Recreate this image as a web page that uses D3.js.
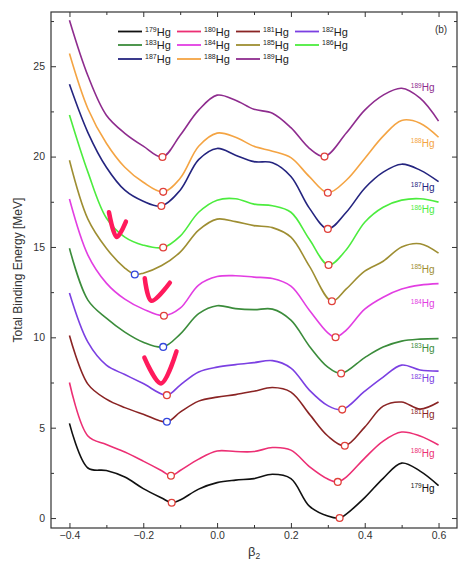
<!DOCTYPE html>
<html><head><meta charset="utf-8">
<script src="https://cdn.jsdelivr.net/npm/d3@7"></script>
<style>
body{margin:0;background:#fff}
svg{display:block}
text{font-family:"Liberation Sans",Arial,Helvetica,sans-serif}
</style>
</head><body>
<svg id="chart" width="459" height="566"></svg>
<script>
// ---------------- data ----------------
const isotopes = [179,180,181,182,183,184,185,186,187,188,189];
const colors = ["#111111","#ec2f74","#8a2424","#7b40e2","#3b8c3b","#e23ee2","#9e8e32","#4cec3e","#24247f","#f4a443","#8e2c8e"];
const beta = [-0.40,-0.35,-0.30,-0.25,-0.20,-0.15,-0.10,-0.05,0.00,0.05,0.10,0.15,0.20,0.25,0.30,0.35,0.40,0.45,0.50,0.55,0.60];

const E179 = [5.24,2.77,2.63,2.27,1.63,1.11,1.00,1.60,1.96,2.10,2.18,2.42,2.18,0.66,0.11,0.22,1.13,2.20,3.04,2.60,1.80];
const E180 = [7.50,4.54,4.07,3.65,3.15,2.62,2.63,3.26,3.71,3.68,3.68,3.90,3.76,2.85,2.16,2.27,3.32,4.26,4.76,4.54,4.04];
const E181 = [10.10,7.41,6.58,6.11,5.75,5.42,5.86,6.47,6.69,6.83,7.02,7.22,6.97,5.75,4.54,4.08,5.03,6.19,6.42,6.03,6.42];
const E182 = [12.45,9.73,8.46,7.94,7.44,6.94,7.36,8.08,8.35,8.49,8.60,8.71,8.30,7.08,6.22,6.19,7.02,7.80,8.46,8.19,8.13];
const E183 = [14.93,12.06,11.06,10.29,9.73,9.47,10.18,11.31,11.75,11.59,11.53,11.56,10.95,9.51,8.35,8.16,8.88,9.46,9.79,9.90,9.93];
const E184 = [17.65,14.55,13.00,12.11,11.56,11.19,11.61,12.89,13.36,13.41,13.33,13.25,12.83,11.50,10.25,10.40,11.56,12.22,12.67,12.89,12.97];
const E185 = [19.80,16.54,14.93,13.83,13.55,13.97,14.71,15.93,16.54,16.40,16.18,16.07,15.54,13.94,12.22,12.68,13.66,14.21,15.00,15.18,14.66];
const E186 = [22.30,19.14,16.60,15.54,15.10,14.97,15.60,16.92,17.59,17.67,17.37,17.28,16.92,15.43,14.10,14.85,16.37,17.20,17.59,17.67,17.48];
const E187 = [24.00,21.33,19.41,18.14,17.53,17.27,18.14,19.83,20.45,20.08,19.72,19.66,18.90,17.15,15.98,16.92,18.25,19.14,19.58,19.25,18.61];
const E188 = [25.70,22.65,20.74,19.41,18.58,18.05,18.80,20.57,21.30,21.07,20.57,20.30,19.94,18.89,17.99,18.69,19.90,21.13,22.00,21.85,21.07];
const E189 = [27.54,24.47,22.29,21.29,20.58,19.98,21.18,22.57,23.40,23.12,22.62,22.40,21.60,20.46,20.13,21.30,22.57,23.40,23.78,23.23,21.96];
const energies = [E179,E180,E181,E182,E183,E184,E185,E186,E187,E188,E189];

// local minima (marked with circles)
const oblateBeta = [-0.123,-0.125,-0.136,-0.136,-0.146,-0.144,-0.223,-0.146,-0.151,-0.146,-0.148];
const oblateE    = [0.85,2.34,5.33,6.80,9.47,11.19,13.48,14.97,17.27,18.05,19.98];
const oblateKind = ["r","r","b","r","b","r","b","r","r","r","r"];
const prolateBeta = [0.332,0.327,0.346,0.339,0.336,0.321,0.311,0.302,0.300,0.300,0.291];
const prolateE    = [0,2,4,6,8,10,12,14,16,18,20];

// right-hand isotope labels (energy at which each label sits)
const labelE = [1.62,3.55,5.72,7.68,9.38,11.82,13.75,17.02,18.28,20.72,23.78];

// hand-drawn check marks on the figure (beta, energy)
const checks = [
  [[-0.293,16.92],[-0.272,15.55],[-0.247,16.40]],
  [[-0.196,13.27],[-0.178,12.02],[-0.128,13.02]],
  [[-0.197,8.88],[-0.152,7.45],[-0.110,9.22]]
];

const xTicks = [-0.4,-0.2,0.0,0.2,0.4,0.6];
const xMinor = [-0.3,-0.1,0.1,0.3,0.5];
const yTicks = [0,5,10,15,20,25];
const yMinor = [2.5,7.5,12.5,17.5,22.5,27.5];

// ---------------- layout ----------------
const svg = d3.select("#chart");
const L = 51, R = 457, T = 12, B = 528;
const x = d3.scaleLinear().domain([-0.45,0.65]).range([L,R]);
const y = d3.scaleLinear().domain([-0.55,28.0]).range([B,T]);

const axisColor = "#333";

function styleAxis(g){
  g.select(".domain").remove();
  g.selectAll(".tick line").attr("stroke",axisColor).attr("stroke-width",1);
  g.selectAll(".tick text").attr("fill","#333").style("font-size","10.5px")
   .style("font-family",'"Liberation Sans",Arial,sans-serif');
}

// bottom
svg.append("g").attr("transform",`translate(0,${B})`)
  .call(d3.axisBottom(x).tickValues(xTicks).tickSizeInner(-5).tickSizeOuter(0).tickPadding(4).tickFormat(d3.format(".1f")))
  .call(styleAxis);
svg.append("g").attr("transform",`translate(0,${B})`)
  .call(d3.axisBottom(x).tickValues(xMinor).tickSizeInner(-3).tickSizeOuter(0).tickFormat(""))
  .call(styleAxis);
// top
svg.append("g").attr("transform",`translate(0,${T})`)
  .call(d3.axisTop(x).tickValues(xTicks).tickSizeInner(-5).tickSizeOuter(0).tickFormat(""))
  .call(styleAxis);
svg.append("g").attr("transform",`translate(0,${T})`)
  .call(d3.axisTop(x).tickValues(xMinor).tickSizeInner(-3).tickSizeOuter(0).tickFormat(""))
  .call(styleAxis);
// left
svg.append("g").attr("transform",`translate(${L},0)`)
  .call(d3.axisLeft(y).tickValues(yTicks).tickSizeInner(-5).tickSizeOuter(0).tickPadding(6))
  .call(styleAxis);
svg.append("g").attr("transform",`translate(${L},0)`)
  .call(d3.axisLeft(y).tickValues(yMinor).tickSizeInner(-3).tickSizeOuter(0).tickFormat(""))
  .call(styleAxis);
// right
svg.append("g").attr("transform",`translate(${R},0)`)
  .call(d3.axisRight(y).tickValues(yTicks).tickSizeInner(-5).tickSizeOuter(0).tickFormat(""))
  .call(styleAxis);
svg.append("g").attr("transform",`translate(${R},0)`)
  .call(d3.axisRight(y).tickValues(yMinor).tickSizeInner(-3).tickSizeOuter(0).tickFormat(""))
  .call(styleAxis);

// frame
svg.append("rect").attr("x",L).attr("y",T).attr("width",R-L).attr("height",B-T)
  .attr("fill","none").attr("stroke",axisColor).attr("stroke-width",1.2);

// axis titles
svg.append("text").attr("transform",`translate(22,${(T+B)/2}) rotate(-90)`)
  .attr("text-anchor","middle").attr("fill","#333").style("font-size","12px")
  .text("Total Binding Energy [MeV]");
const bt = svg.append("text").attr("x",x(0.1)).attr("y",556).attr("text-anchor","middle")
  .attr("fill","#333").style("font-size","13px");
bt.append("tspan").text("β");
bt.append("tspan").attr("dy",3).style("font-size","8.5px").text("2");

svg.append("text").attr("x",441).attr("y",33).attr("text-anchor","middle")
  .attr("fill","#333").style("font-size","10px").text("(b)");

// ---------------- curves ----------------
const line = d3.line().x(d=>x(d[0])).y(d=>y(d[1])).curve(d3.curveCatmullRom.alpha(0.5));
const plot = svg.append("g");

isotopes.forEach((iso,i)=>{
  const pts = beta.map((b,j)=>[b,energies[i][j]])
    .filter(p=>Math.abs(p[0]-oblateBeta[i])>0.015 && Math.abs(p[0]-prolateBeta[i])>0.015);
  pts.push([oblateBeta[i],oblateE[i]]);
  pts.push([prolateBeta[i],prolateE[i]]);
  pts.sort((a,b)=>a[0]-b[0]);
  plot.append("path").datum(pts).attr("d",line)
    .attr("fill","none").attr("stroke",colors[i]).attr("stroke-width",1.6)
    .attr("stroke-linejoin","round");
});

// minima markers
isotopes.forEach((iso,i)=>{
  plot.append("circle").attr("cx",x(oblateBeta[i])).attr("cy",y(oblateE[i])).attr("r",3.4)
    .attr("fill","#fff").attr("stroke",oblateKind[i]==="b"?"#3346dd":"#e0403a").attr("stroke-width",1.3);
  plot.append("circle").attr("cx",x(prolateBeta[i])).attr("cy",y(prolateE[i])).attr("r",3.4)
    .attr("fill","#fff").attr("stroke","#e0403a").attr("stroke-width",1.3);
});

// right labels
isotopes.forEach((iso,i)=>{
  const t = svg.append("text").attr("x",x(0.525)).attr("y",y(labelE[i])+3)
    .attr("fill",colors[i]).style("font-size","10px");
  t.append("tspan").attr("dy",-3.5).style("font-size","6.5px").text(iso);
  t.append("tspan").attr("dy",3.5).text("Hg");
});

// legend
const colX = [118,177,236,295], rowY = [31.5,45,59];
isotopes.forEach((iso,i)=>{
  const cx = colX[i%4], cy = rowY[Math.floor(i/4)];
  svg.append("line").attr("x1",cx).attr("x2",cx+24).attr("y1",cy).attr("y2",cy)
    .attr("stroke",colors[i]).attr("stroke-width",1.8);
  const t = svg.append("text").attr("x",cx+27).attr("y",cy+4).attr("fill","#222").style("font-size","11px");
  t.append("tspan").attr("dy",-4).style("font-size","7px").text(iso);
  t.append("tspan").attr("dy",4).text("Hg");
});

// check marks
const chk = d3.line().x(d=>x(d[0])).y(d=>y(d[1])).curve(d3.curveCatmullRom);
checks.forEach(c=>{
  svg.append("path").datum(c).attr("d",chk).attr("fill","none")
    .attr("stroke","#ff1a5c").attr("stroke-width",4.5).attr("stroke-linecap","round").attr("stroke-linejoin","round");
});
</script>
</body></html>
